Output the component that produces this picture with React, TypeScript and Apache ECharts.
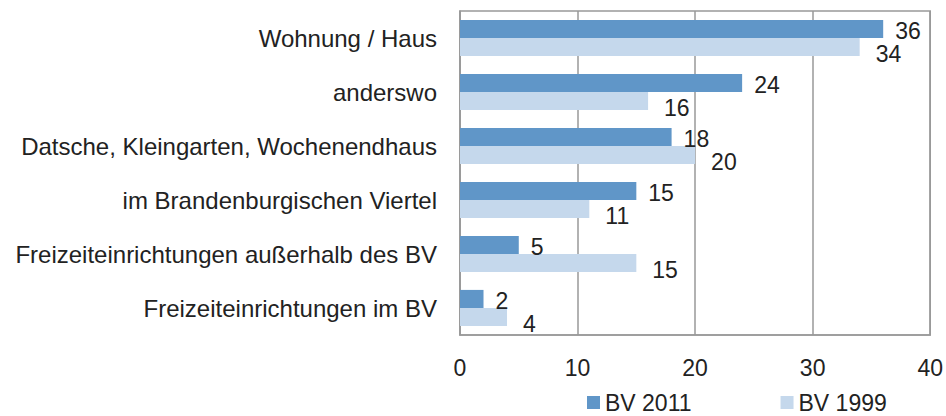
import React, { useEffect, useRef } from "react";
import * as echarts from "echarts";

const categories = [
  "Wohnung / Haus",
  "anderswo",
  "Datsche, Kleingarten, Wochenendhaus",
  "im Brandenburgischen Viertel",
  "Freizeiteinrichtungen außerhalb des BV",
  "Freizeiteinrichtungen im BV",
];
const bv2011 = [36, 24, 18, 15, 5, 2];
const bv1999 = [34, 16, 20, 11, 15, 4];
const xTicks = { min: 0, max: 40, interval: 10 };

const FONT = "'Liberation Sans', Arial, sans-serif";

export default function App() {
  const ref = useRef<HTMLDivElement>(null);
  useEffect(() => {
    if (!ref.current) return;
    const chart = echarts.init(ref.current, undefined, { renderer: "svg" });
    chart.setOption({
      animation: false,
      textStyle: { fontFamily: FONT },
      grid: {
        left: 460,
        right: 13,
        top: 11,
        bottom: 81,
        show: true,
        borderColor: "#999999",
        borderWidth: 1.5,
      },
      legend: {
        data: ["BV 2011", "BV 1999"],
        left: 587,
        top: 391,
        padding: 0,
        itemWidth: 13,
        itemHeight: 13,
        itemGap: 89,
        icon: "rect",
        textStyle: { fontSize: 23, lineHeight: 23, color: "#222", fontFamily: FONT },
      },
      xAxis: {
        type: "value",
        min: xTicks.min,
        max: xTicks.max,
        interval: xTicks.interval,
        axisLine: { show: true, lineStyle: { color: "#999999", width: 1.5 } },
        axisTick: { show: false },
        splitLine: { show: true, lineStyle: { color: "#999999", width: 1.5 } },
        axisLabel: { fontSize: 23, color: "#222", margin: 21, fontFamily: FONT },
      },
      yAxis: {
        type: "category",
        data: categories,
        inverse: true,
        axisLine: { show: true, lineStyle: { color: "#999999", width: 1.5 } },
        axisTick: { show: false },
        axisLabel: {
          fontSize: 24,
          color: "#222",
          margin: 23,
          fontFamily: FONT,
          padding: [4, 0, 0, 0],
        },
      },
      series: [
        {
          name: "BV 2011",
          type: "bar",
          data: bv2011,
          itemStyle: { color: "#6096c8" },
          barGap: "0%",
          barCategoryGap: "33%",
          label: {
            show: true,
            position: "right",
            distance: 12,
            offset: [0, 2],
            fontSize: 23,
            color: "#222",
            fontFamily: FONT,
          },
        },
        {
          name: "BV 1999",
          type: "bar",
          data: bv1999,
          itemStyle: { color: "#c5d8ec" },
          barGap: "0%",
          barCategoryGap: "33%",
          label: {
            show: true,
            position: "right",
            distance: 16,
            offset: [0, 7],
            fontSize: 23,
            color: "#222",
            fontFamily: FONT,
          },
        },
      ],
    });
    return () => chart.dispose();
  }, []);
  return (
    <div
      ref={ref}
      style={{ position: "fixed", left: 0, top: 0, width: 946, height: 416, background: "#fff" }}
    />
  );
}
